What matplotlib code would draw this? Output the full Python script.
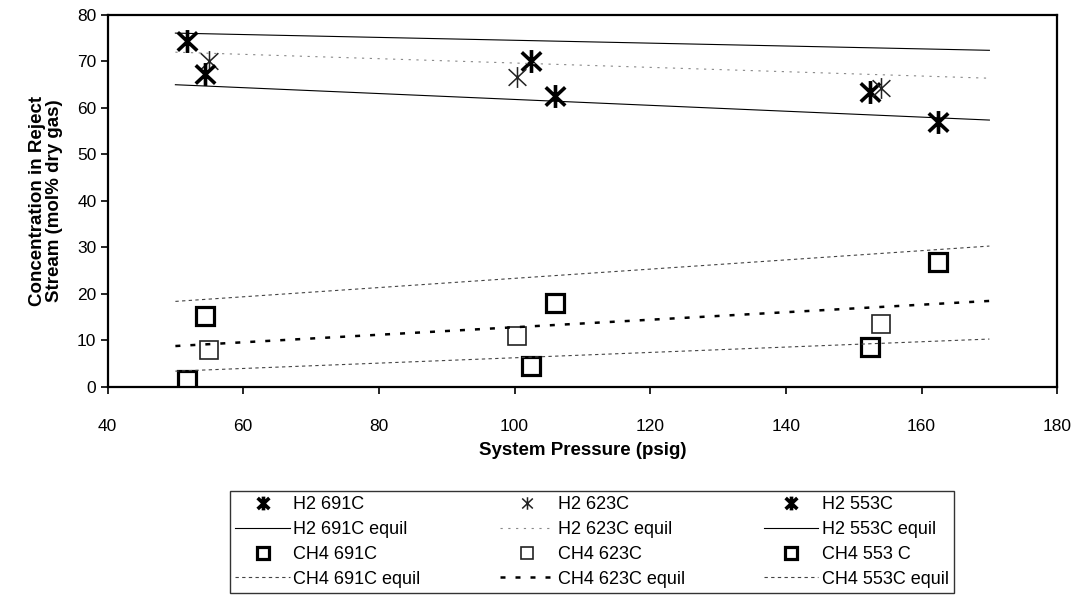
import matplotlib
matplotlib.use("Agg")
import matplotlib.pyplot as plt
from matplotlib.path import Path

plt.rcParams['font.family'] = ['Liberation Sans', 'DejaVu Sans']

# measured points (pressure psig, concentration mol% dry gas)
p_691 = [51.7, 102.4, 152.4]
h2_691 = [74.4, 70.1, 63.4]
ch4_691 = [1.6, 4.4, 8.5]

p_623 = [55.0, 100.4, 154.0]
h2_623 = [70.1, 66.6, 64.2]
ch4_623 = [7.9, 10.9, 13.5]

p_553 = [54.4, 105.9, 162.4]
h2_553 = [67.3, 62.6, 57.0]
ch4_553 = [15.2, 18.1, 26.8]

# equilibrium lines
p_eq = [50, 170]
h2_691_eq = [76.1, 72.4]
h2_623_eq = [72.0, 66.4]
h2_553_eq = [65.0, 57.4]
ch4_691_eq = [3.4, 10.3]
ch4_623_eq = [8.8, 18.5]
ch4_553_eq = [18.4, 30.3]

# asterisk marker: X with a vertical bar
star = Path([(0, -1), (0, 1), (-0.85, -0.8), (0.85, 0.8), (-0.85, 0.8), (0.85, -0.8)],
            [Path.MOVETO, Path.LINETO, Path.MOVETO, Path.LINETO, Path.MOVETO, Path.LINETO])

fig = plt.figure(figsize=(10.81, 5.99), dpi=100)
ax = fig.add_axes([0.0995, 0.354, 0.8785, 0.621])

ax.plot(p_691, h2_691, ls='none', marker=star, ms=16.5, mew=2.6, color='black', label='H2 691C')
ax.plot(p_eq, h2_691_eq, color='black', lw=0.8, label='H2 691C equil')
ax.plot(p_691, ch4_691, ls='none', marker='s', ms=13.5, mew=2.3, mfc='none', color='black', label='CH4 691C')
ax.plot(p_eq, ch4_691_eq, color='#444444', lw=0.8, ls=(0, (3, 3)), label='CH4 691C equil')

ax.plot(p_623, h2_623, ls='none', marker=star, ms=15, mew=1.1, color='#222222', label='H2 623C')
ax.plot(p_eq, h2_623_eq, color='#888888', lw=0.8, ls=(0, (2, 5)), label='H2 623C equil')
ax.plot(p_623, ch4_623, ls='none', marker='s', ms=13.5, mew=1.2, mfc='none', color='#222222', label='CH4 623C')
ax.plot(p_eq, ch4_623_eq, color='black', lw=1.8, ls=(0, (2, 4)), label='CH4 623C equil')

ax.plot(p_553, h2_553, ls='none', marker=star, ms=16.5, mew=2.6, color='black', label='H2 553C')
ax.plot(p_eq, h2_553_eq, color='black', lw=0.8, label='H2 553C equil')
ax.plot(p_553, ch4_553, ls='none', marker='s', ms=13.5, mew=2.3, mfc='none', color='black', label='CH4 553 C')
ax.plot(p_eq, ch4_553_eq, color='#444444', lw=0.8, ls=(0, (3, 3)), label='CH4 553C equil')

ax.set_xlim(40, 180)
ax.set_ylim(0, 80)
ax.set_xticks(range(40, 181, 20))
ax.set_yticks(range(0, 81, 10))
ax.tick_params(labelsize=12.5, length=5, width=1.2, direction='out')
ax.tick_params(axis='x', pad=18)
ax.tick_params(axis='y', pad=3)
for s in ax.spines.values():
    s.set_linewidth(1.6)

ax.set_xlabel('System Pressure (psig)', fontsize=13.5, fontweight='bold', labelpad=6)
ax.set_ylabel('Concentration in Reject\nStream (mol% dry gas)', fontsize=13.5, fontweight='bold',
              labelpad=10, linespacing=1.05)

leg = fig.legend(loc='upper left', bbox_to_anchor=(0.2128, 0.1803), ncol=3, fontsize=13,
                 frameon=True, fancybox=False, handlelength=3.0, handletextpad=0.2,
                 labelspacing=0.43, borderaxespad=0, borderpad=0.3, columnspacing=4.4,
                 markerscale=0.6)
leg.get_frame().set_edgecolor('black')
leg.get_frame().set_linewidth(1.0)

fig.savefig('out.png', dpi=100)
